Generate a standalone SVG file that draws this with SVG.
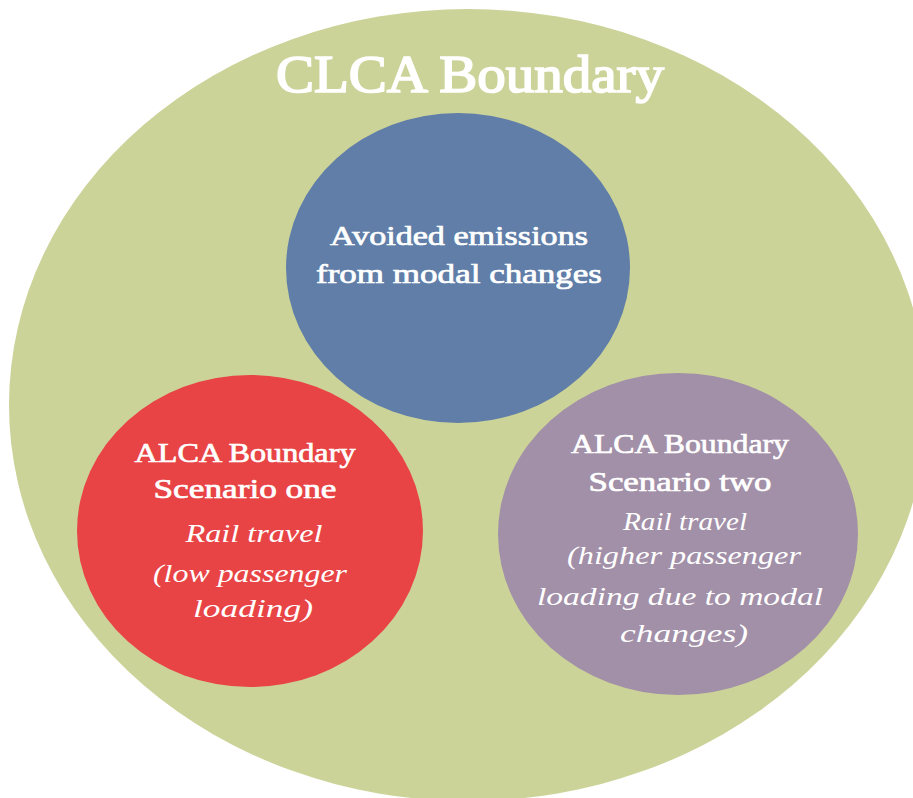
<svg xmlns="http://www.w3.org/2000/svg" width="913" height="798" viewBox="0 0 913 798">
  <style>
    .head { font-family: "Liberation Serif", "DejaVu Serif", serif; font-weight: normal; fill: #ffffff; stroke: #ffffff; stroke-width: 0.7; text-anchor: middle; }
    .title { stroke-width: 1.7; }
    .script { font-family: "Liberation Serif", "DejaVu Serif", serif; font-style: italic; fill: #ffffff; text-anchor: middle; }
  </style>
  <rect width="913" height="798" fill="#ffffff"/>

  <!-- outer boundary -->
  <g id="clca-boundary">
    <ellipse cx="468" cy="405" rx="459" ry="396" fill="#CBD398"/>
    <text class="head title" x="470" y="92" font-size="52" textLength="388" lengthAdjust="spacingAndGlyphs">CLCA Boundary</text>
  </g>

  <!-- avoided emissions -->
  <g id="avoided-emissions">
    <ellipse cx="458" cy="268" rx="172" ry="155" fill="#607EA8"/>
    <text class="head" x="459" y="245" font-size="27" textLength="258" lengthAdjust="spacingAndGlyphs">Avoided emissions</text>
    <text class="head" x="459" y="283" font-size="27" textLength="286" lengthAdjust="spacingAndGlyphs">from modal changes</text>
  </g>

  <!-- scenario one -->
  <g id="alca-scenario-one">
    <ellipse cx="250" cy="531" rx="173" ry="156" fill="#E84445"/>
    <text class="head" x="245" y="462" font-size="28" textLength="221" lengthAdjust="spacingAndGlyphs">ALCA Boundary</text>
    <text class="head" x="245" y="498" font-size="28" textLength="183" lengthAdjust="spacingAndGlyphs">Scenario one</text>
    <text class="script" x="254" y="542" font-size="25" textLength="137" lengthAdjust="spacingAndGlyphs">Rail travel</text>
    <text class="script" x="250" y="582" font-size="25" textLength="194" lengthAdjust="spacingAndGlyphs">(low passenger</text>
    <text class="script" x="253" y="617" font-size="25" textLength="120" lengthAdjust="spacingAndGlyphs">loading)</text>
  </g>

  <!-- scenario two -->
  <g id="alca-scenario-two">
    <ellipse cx="678" cy="534" rx="180" ry="161" fill="#A28FA8"/>
    <text class="head" x="680" y="453" font-size="28" textLength="218" lengthAdjust="spacingAndGlyphs">ALCA Boundary</text>
    <text class="head" x="680" y="491" font-size="28" textLength="183" lengthAdjust="spacingAndGlyphs">Scenario two</text>
    <text class="script" x="685" y="530" font-size="25" textLength="124" lengthAdjust="spacingAndGlyphs">Rail travel</text>
    <text class="script" x="684" y="564" font-size="25" textLength="234" lengthAdjust="spacingAndGlyphs">(higher passenger</text>
    <text class="script" x="680" y="605" font-size="25" textLength="286" lengthAdjust="spacingAndGlyphs">loading due to modal</text>
    <text class="script" x="684" y="642" font-size="25" textLength="128" lengthAdjust="spacingAndGlyphs">changes)</text>
  </g>
</svg>
